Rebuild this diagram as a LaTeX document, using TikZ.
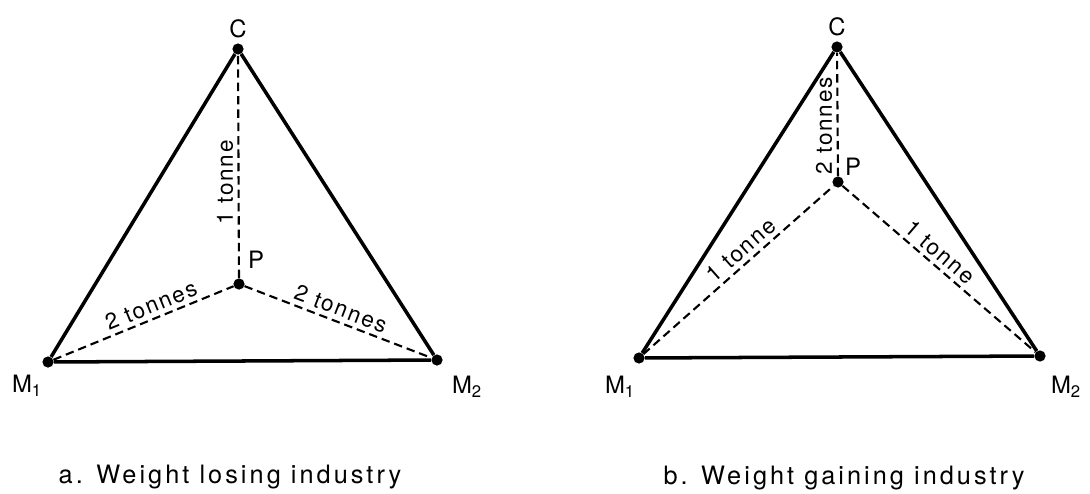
\documentclass[tikz,border=0pt]{standalone}
\usepackage{fontspec}
\setmainfont{TeX Gyre Heros}
\newcommand{\wtfont}{\fontsize{16}{18}\selectfont\addfontfeature{LetterSpace=8}}
\newcommand{\vxfont}{\fontsize{17}{19}\selectfont}
\newcommand{\capfont}{\fontsize{18}{20}\selectfont\addfontfeature{LetterSpace=12}}
\tikzset{
  site/.style={circle, fill=black, inner sep=0pt, minimum size=0.28cm},
  road/.style={line width=2.5pt},
  haul/.style={line width=1.5pt, dash pattern=on 6pt off 3.5pt},
  wt/.style={font=\wtfont, sloped, above, inner sep=3pt},
  wtup/.style={font=\wtfont, rotate=90, anchor=south, inner sep=3pt},
  vx/.style={font=\vxfont, inner sep=0pt},
  figcap/.style={font=\capfont, inner sep=0pt}
}
\begin{document}
\begin{tikzpicture}[x=0.025cm, y=-0.025cm]
                        \useasboundingbox (0,0) rectangle (1090,493);

                        % a. Industria que pierde peso
                        \node[site] (lC) at (238,49) {};
                        \node[site] (lM1) at (48,362) {};
                        \node[site] (lM2) at (437,360) {};
                        \node[site] (lP) at (239,284) {};

                        \draw[road] (lC) -- (lM1);
                        \draw[road] (lC) -- (lM2);
                        \draw[road] (lM1) -- (lM2);

                        \draw[haul] (lP) -- (lC) node[wtup, pos=0.43] {1 tonne};
                        \draw[haul] (lM1) -- (lP) node[wt, pos=0.57] {2 tonnes};
                        \draw[haul] (lP) -- (lM2) node[wt, pos=0.49] {2 tonnes};

                        \node[vx] (lCl) at (238,29) {C};
                        \node[vx] (lM1l) at (27,386) {M\textsubscript{1}};
                        \node[vx] (lM2l) at (467,387) {M\textsubscript{2}};
                        \node[vx] (lPl) at (256,260) {P};

                        \node[figcap] (lcap) at (230,477) {a. Weight losing industry};

                        % b. Industria que gana peso
                        \node[site] (rC) at (837,47) {};
                        \node[site] (rM1) at (639,358) {};
                        \node[site] (rM2) at (1040,356) {};
                        \node[site] (rP) at (838,182) {};

                        \draw[road] (rC) -- (rM1);
                        \draw[road] (rC) -- (rM2);
                        \draw[road] (rM1) -- (rM2);

                        \draw[haul] (rP) -- (rC) node[wtup, pos=0.41] {2 tonnes};
                        \draw[haul] (rM1) -- (rP) node[wt, pos=0.56] {1 tonne};
                        \draw[haul] (rP) -- (rM2) node[wt, pos=0.46] {1 tonne};

                        \node[vx] (rCl) at (837,27) {C};
                        \node[vx] (rM1l) at (620,387) {M\textsubscript{1}};
                        \node[vx] (rM2l) at (1066,387) {M\textsubscript{2}};
                        \node[vx] (rPl) at (853,167) {P};

                        \node[figcap] (rcap) at (844,478) {b. Weight gaining industry};
                    \end{tikzpicture}
\end{document}
